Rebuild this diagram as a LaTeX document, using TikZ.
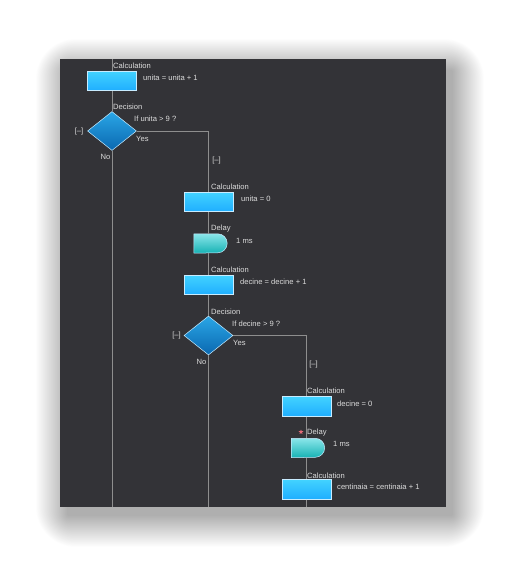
\documentclass[tikz,border=0pt]{standalone}
\usepackage{fontspec}
\setmainfont{Liberation Sans}
\usetikzlibrary{shapes.geometric}
\definecolor{panel}{HTML}{333337}
\definecolor{wire}{HTML}{8E8E8E}
\definecolor{txt}{HTML}{DCDCDC}
\definecolor{boxtop}{HTML}{42D2FF}
\definecolor{boxbot}{HTML}{1FAEFF}
\definecolor{dectop}{HTML}{2AA6E6}
\definecolor{decbot}{HTML}{0A68B0}
\definecolor{deltop}{HTML}{8AE6EA}
\definecolor{delbot}{HTML}{16B2B4}
\definecolor{edge}{HTML}{C8ECFF}
\definecolor{starred}{HTML}{E66A78}
\begin{document}
\begin{tikzpicture}[x=1pt,y=-1pt,
  calcbox/.style={rectangle, draw=edge, line width=0.6pt, top color=boxtop, bottom color=boxbot,
    minimum width=49pt, minimum height=19.5pt, inner sep=0pt},
  decbox/.style={diamond, draw=edge, line width=0.5pt, top color=dectop, bottom color=decbot,
    minimum width=49pt, minimum height=39pt, inner sep=0pt},
  delaybox/.style={rectangle, draw=none, minimum width=33pt, minimum height=19pt, inner sep=0pt},
  wireline/.style={draw=wire, line width=0.8pt},
  lbl/.style={text=txt, inner sep=0pt, font=\fontsize{7.6}{9}\selectfont},
  lblw/.style={lbl, anchor=west}
]
\useasboundingbox (0,0) rectangle (515,576);
\fill[white] (0,0) rectangle (515,576);
% soft drop shadow
\foreach \i in {1,...,40}{
  \fill[black, opacity=0.0085, rounded corners=\i pt]
    (60+8-\i*0.8,59+12-\i*0.8) rectangle (446+6+\i*0.8,507+8+\i*0.8);
}
\fill[panel] (60,59) rectangle (446,507);

% nodes
\node[calcbox] (c1) at (112,81) {};
\node[decbox] (d1) at (112,131) {};
\node[calcbox] (c2) at (208.5,202) {};
\node[delaybox] (w1) at (210.5,243.5) {};
\node[calcbox] (c3) at (208.5,285) {};
\node[decbox] (d2) at (208.5,335.5) {};
\node[calcbox] (c4) at (306.5,406.5) {};
\node[delaybox] (w2) at (308,448) {};
\node[calcbox] (c5) at (306.5,489.5) {};

\coordinate (top1) at (112,59);
\coordinate (bot1) at (112,507);
\coordinate (bot2) at (208.5,507);
\coordinate (bot3) at (306.5,507);

% delay shapes
\foreach \w in {w1,w2}{
  \path[draw=edge, line width=0.5pt, top color=deltop, bottom color=delbot]
    (\w.north west) -- ([xshift=-9.5pt]\w.north east)
    arc[start angle=90, end angle=-90, radius=9.5pt]
    -- (\w.south west) -- cycle;
}

% connectors
\draw[wireline] (top1) -- (c1.north);
\draw[wireline] (c1.south) -- (d1.north);
\draw[wireline] (d1.south) -- (bot1);
\draw[wireline] (d1.east) -| (c2.north);
\draw[wireline] (c2.south) -- (c2.south |- w1.north);
\draw[wireline] (c2.south |- w1.south) -- (c3.north);
\draw[wireline] (c3.south) -- (d2.north);
\draw[wireline] (d2.south) -- (bot2);
\draw[wireline] (d2.east) -| (c4.north);
\draw[wireline] (c4.south) -- (c4.south |- w2.north);
\draw[wireline] (c4.south |- w2.south) -- (c5.north);
\draw[wireline] (c5.south) -- (bot3);

% labels column 1
\node[lblw] (t1) at (113,66) {Calculation};
\node[lblw] (t2) at (143,78) {unita = unita + 1};
\node[lblw] (t3) at (113,107) {Decision};
\node[lblw] (t4) at (134,119) {If unita > 9 ?};
\node[lbl] (t5) at (79,132) {[–]};
\node[lblw] (t6) at (136,139) {Yes};
\node[lbl] (t7) at (105.5,157) {No};
\node[lbl] (t8) at (216.5,161) {[–]};
% column 2
\node[lblw] (t9) at (211,187) {Calculation};
\node[lblw] (t10) at (241,199) {unita = 0};
\node[lblw] (t11) at (211,229) {Delay};
\node[lblw] (t12) at (236,241) {1 ms};
\node[lblw] (t13) at (211,270) {Calculation};
\node[lblw] (t14) at (240,282) {decine = decine + 1};
\node[lblw] (t15) at (211,312) {Decision};
\node[lblw] (t16) at (232,324) {If decine > 9 ?};
\node[lbl] (t17) at (176.5,336) {[–]};
\node[lblw] (t18) at (233,343) {Yes};
\node[lbl] (t19) at (201.5,362) {No};
\node[lbl] (t20) at (313.5,365) {[–]};
% column 3
\node[lblw] (t21) at (307,391) {Calculation};
\node[lblw] (t22) at (337,404) {decine = 0};
\node[star, star points=5, star point ratio=2.2, fill=starred, inner sep=0pt, minimum size=5pt] (st) at (301,432) {};
\node[lblw] (t23) at (307,433) {Delay};
\node[lblw] (t24) at (333,444) {1 ms};
\node[lblw] (t25) at (307,476) {Calculation};
\node[lblw] (t26) at (337,487) {centinaia = centinaia + 1};
\end{tikzpicture}
\end{document}
